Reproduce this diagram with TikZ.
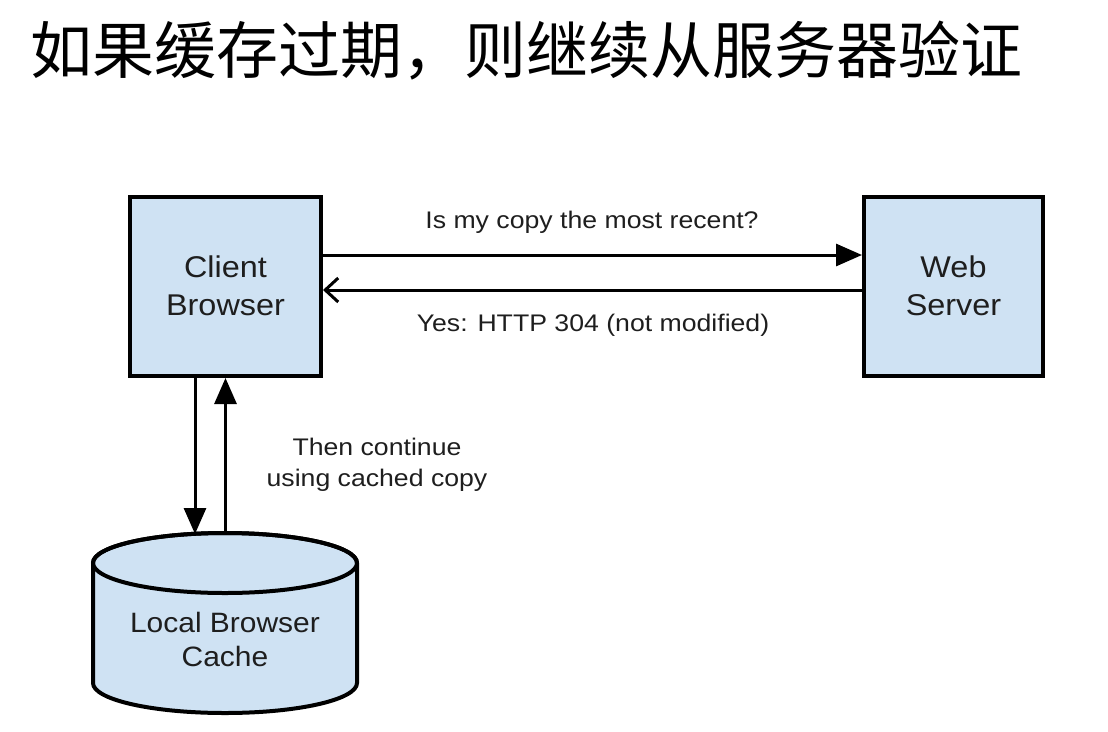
\documentclass[tikz,border=0pt]{standalone}
\usepackage{fontspec}
\setmainfont{Liberation Sans}
\newfontfamily\cjk{Noto Sans CJK SC}
\usetikzlibrary{arrows.meta}
\definecolor{boxfill}{HTML}{CFE2F3}
\definecolor{ink}{HTML}{1E1E1E}
\newcommand{\wtext}[4]{\fontsize{#2}{#3}\selectfont\scalebox{#1}[1]{\begin{tabular}{@{}c@{}}#4\end{tabular}}}
\tikzset{
  boxnode/.style={draw=black, line width=4pt, fill=boxfill, minimum width=191pt, minimum height=179pt, inner sep=0pt, text=ink},
  conn/.style={draw=black, line width=3pt},
  solidtip/.style={-{Triangle[length=26pt,width=22pt]}},
  opentip/.style={-{Straight Barb[length=13pt,width=24pt,line width=3pt]}},
  lbl/.style={text=ink, inner sep=0pt},
  cyl/.style={draw=black, line width=4pt, fill=boxfill}
}
\begin{document}
\begin{tikzpicture}[x=1pt,y=-1pt]
\useasboundingbox (0,0) rectangle (1108,731);
% title
\node[anchor=base west, inner sep=0pt, text=black] (title) at (30,73) {\cjk\fontsize{62}{62}\selectfont 如果缓存过期，则继续从服务器验证};
% boxes
\node[boxnode] (client) at (225.5,286.5) {};
\node[boxnode, minimum width=179pt] (server) at (953.5,286.5) {};
\node[lbl] (clienttext) at ([yshift=-2pt]client.center) {\wtext{1.08}{30}{38}{Client\\Browser}};
\node[lbl] (servertext) at ([yshift=-2pt]server.center) {\wtext{1.08}{30}{38}{Web\\Server}};
% cylinder
\path[cyl] (93,563) -- (93,683) arc[start angle=180,end angle=0,x radius=132,y radius=30] -- (357,563) arc[start angle=0,end angle=-180,x radius=132,y radius=30] -- cycle;
\draw[line width=4pt] (225,563) ellipse [x radius=132, y radius=30];
\node[lbl] (cache) at (225,643) {\wtext{1.07}{28}{34}{Local Browser\\Cache}};
\coordinate (cachetopA) at (195,534);
\coordinate (cachetopB) at (225.5,533);
% horizontal connectors
\draw[conn, solidtip] ([yshift=31.5pt]client.east) -- ([yshift=31.5pt]server.west);
\draw[conn, opentip] ([yshift=-3.5pt]server.west) -- ([yshift=-3.5pt]client.east);
\node[lbl] (ask) at (592,223) {\wtext{1.11}{24}{28}{Is my copy the most recent?}};
\node[lbl] (reply) at (593,326) {\wtext{1.11}{24}{28}{Yes: HTTP 304 (not modified)}};
% vertical connectors
\draw[conn, solidtip] ([xshift=-30.5pt]client.south) -- (cachetopA);
\draw[conn, solidtip] (cachetopB) -- (client.south);
\node[lbl] (cont) at (377,465) {\wtext{1.11}{24}{31}{Then continue\\using cached copy}};
\end{tikzpicture}
\end{document}
